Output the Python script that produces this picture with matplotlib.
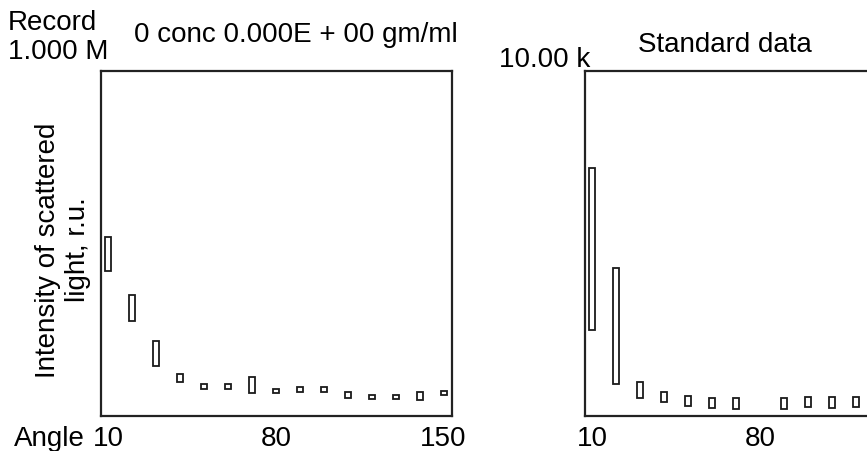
import matplotlib
matplotlib.use("Agg")
import matplotlib.pyplot as plt

plt.rcParams['font.family'] = ['Liberation Sans', 'DejaVu Sans']

W, H = 867, 451

# recorded run: scattering angle (deg) and low/high intensity (thousands)
rec_angle = [10, 20, 30, 40, 50, 60, 70, 80, 90, 100, 110, 120, 130, 140, 150]
rec_low = [420, 276, 145, 98, 78, 78, 68, 68, 70, 70, 52, 48, 48, 46, 61]
rec_high = [518, 351, 218, 122, 93, 93, 114, 79, 85, 85, 70, 61, 61, 70, 73]

# standard data: angle (deg) and low/high intensity (thousands)
std_angle = [10, 20, 30, 40, 50, 60, 70, 90, 100, 110, 120]
std_low = [2.49, 0.92, 0.53, 0.41, 0.29, 0.22, 0.20, 0.20, 0.25, 0.22, 0.25]
std_high = [7.18, 4.30, 0.98, 0.70, 0.59, 0.53, 0.51, 0.51, 0.56, 0.54, 0.56]

rec_ticks = [10, 80, 150]
std_ticks = [10, 80]


def px(x, y):
    return x / W, 1 - y / H


fig = plt.figure(figsize=(W / 100, H / 100), dpi=100)

ax1 = fig.add_axes([101 / W, 1 - 416 / H, 351 / W, 345 / H])
ax2 = fig.add_axes([585 / W, 1 - 416 / H, 351 / W, 345 / H])

fs = 20

for ax, ang, lo, hi, ymax, ticks in [(ax1, rec_angle, rec_low, rec_high, 1000, rec_ticks),
                                     (ax2, std_angle, std_low, std_high, 10, std_ticks)]:
    heights = [h - l for l, h in zip(lo, hi)]
    ax.bar(ang, heights, bottom=lo, width=2.5, fill=False,
           edgecolor='#1a1a1a', linewidth=1.3)
    ax.set_xlim(7, 153.5)
    ax.set_ylim(0, ymax)
    ax.set_xticks(ticks)
    ax.set_xticklabels([str(t) for t in ticks], fontsize=fs)
    ax.tick_params(axis='x', length=0, pad=7)
    ax.set_yticks([])
    for s in ax.spines.values():
        s.set_linewidth(1.6)
        s.set_color('#222222')

fig.text(*px(8, 30), "Record", fontsize=fs, ha='left', va='baseline')
fig.text(*px(8, 59), "1.000 M", fontsize=fs, ha='left', va='baseline')
fig.text(*px(296, 42), "0 conc 0.000E + 00 gm/ml", fontsize=fs, ha='center', va='baseline')
fig.text(*px(545, 67), "10.00 k", fontsize=fs, ha='center', va='baseline')
fig.text(*px(725, 52), "Standard data", fontsize=fs, ha='center', va='baseline')
fig.text(*px(14, 446), "Angle", fontsize=fs, ha='left', va='baseline')
fig.text(*px(63, 250), "Intensity of scattered\nlight, r.u.", fontsize=fs,
         rotation=90, ha='center', va='center', linespacing=1.2, multialignment='center')

fig.savefig("out.png", dpi=100)
